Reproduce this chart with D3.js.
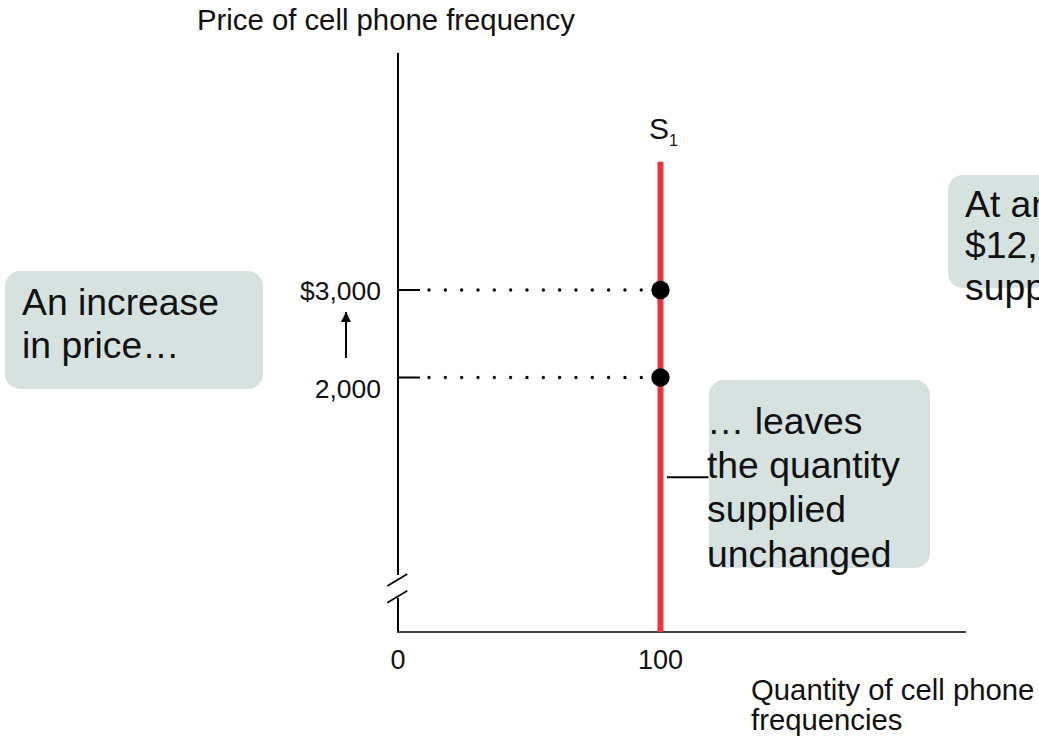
<!DOCTYPE html>
<html>
<head>
<meta charset="utf-8">
<script src="https://cdn.jsdelivr.net/npm/d3@7"></script>
<style>
  html, body { margin: 0; padding: 0; background: #fff; }
  svg { display: block; }
  text { font-family: "Liberation Sans", Arial, Helvetica, sans-serif; fill: #111; }
</style>
</head>
<body>
<svg id="chart" width="1039" height="743"></svg>
<script>
// Supply of cell phone frequencies: perfectly inelastic at a fixed quantity
const priceTicks = [2000, 3000];
const priceTickLabels = ["2,000", "$3,000"];
const quantityTicks = [0, 100];
const quantityTickLabels = ["0", "100"];
const supplyQuantity = [100, 100];
const supplyPrice = [null, 4466];          // null = runs down to the quantity axis
const pricePoints = [2000, 3000];          // marked points on S1
const leftNote = ["An increase", "in price…"];
const middleNote = ["… leaves", "the quantity", "supplied", "unchanged"];
const rightNote = ["At any price above", "$12, the quantity", "supplied is fixed"];

const svg = d3.select("#chart");

// Layout
const axisX0 = 398, axisY0 = 632, axisTop = 53, axisRight = 966;
const breakTop = 575, breakBottom = 598;

const x = d3.scaleLinear().domain([0, 100]).range([axisX0, 660.5]);
const y = d3.scaleLinear().domain([2000, 3000]).range([377.5, 290]);

// Axes
const axes = svg.append("g").attr("stroke", "#000").attr("fill", "none");
axes.append("line").attr("x1", axisX0).attr("x2", axisX0)
  .attr("y1", axisTop).attr("y2", breakTop).attr("stroke-width", 2);
axes.append("line").attr("x1", axisX0).attr("x2", axisX0)
  .attr("y1", breakBottom).attr("y2", axisY0).attr("stroke-width", 2);
axes.append("line").attr("x1", axisX0 - 1).attr("x2", axisRight)
  .attr("y1", axisY0).attr("y2", axisY0).attr("stroke-width", 1.6);
// axis break marks
[[387.3, 586, 407.3, 574], [387.3, 602.7, 407.3, 590.7]].forEach(d => {
  axes.append("line").attr("x1", d[0]).attr("y1", d[1]).attr("x2", d[2]).attr("y2", d[3])
    .attr("stroke-width", 1.6);
});

// Price ticks and dotted guides
const ticks = svg.append("g");
ticks.selectAll("line.tick").data(priceTicks).join("line")
  .attr("class", "tick")
  .attr("x1", axisX0).attr("x2", 420)
  .attr("y1", d => y(d)).attr("y2", d => y(d))
  .attr("stroke", "#000").attr("stroke-width", 2);
ticks.selectAll("line.guide").data(priceTicks).join("line")
  .attr("class", "guide")
  .attr("x1", 429).attr("x2", 645)
  .attr("y1", d => y(d)).attr("y2", d => y(d))
  .attr("stroke", "#000").attr("stroke-width", 3.4)
  .attr("stroke-linecap", "round")
  .attr("stroke-dasharray", "0 16.33");

// Price tick labels
svg.selectAll("text.plabel").data(priceTicks).join("text")
  .attr("class", "plabel")
  .attr("x", 381)
  .attr("y", (d, i) => y(d) + (i === 0 ? 20.5 : 9.7))
  .attr("text-anchor", "end")
  .attr("font-size", 26.5)
  .text((d, i) => priceTickLabels[i]);

// Arrow from 2,000 up to $3,000
svg.append("defs").append("marker")
  .attr("id", "head").attr("viewBox", "0 0 10 10")
  .attr("refX", 10).attr("refY", 5)
  .attr("markerWidth", 10).attr("markerHeight", 11)
  .attr("markerUnits", "userSpaceOnUse")
  .attr("orient", "auto")
  .append("path").attr("d", "M0,0 L10,5 L0,10 Z").attr("fill", "#000");
svg.append("line")
  .attr("x1", 346).attr("x2", 346).attr("y1", 358).attr("y2", 312)
  .attr("stroke", "#000").attr("stroke-width", 2)
  .attr("marker-end", "url(#head)");

// Quantity tick labels
svg.selectAll("text.qlabel").data(quantityTicks).join("text")
  .attr("class", "qlabel")
  .attr("x", d => x(d)).attr("y", 669)
  .attr("text-anchor", "middle")
  .attr("font-size", 27)
  .text((d, i) => quantityTickLabels[i]);

// Supply curve S1
svg.append("line")
  .attr("x1", x(supplyQuantity[0])).attr("x2", x(supplyQuantity[1]))
  .attr("y1", supplyPrice[0] === null ? axisY0 : y(supplyPrice[0]))
  .attr("y2", y(supplyPrice[1]))
  .attr("stroke", "#ee3340").attr("stroke-width", 6);

const s1 = svg.append("text").attr("x", 649).attr("y", 139).attr("font-size", 30);
s1.append("tspan").text("S");
s1.append("tspan").attr("font-size", 16).attr("dx", 0).attr("dy", 7).text("1");

// Points on S1
svg.selectAll("circle.pt").data(pricePoints).join("circle")
  .attr("class", "pt")
  .attr("cx", x(100)).attr("cy", d => y(d)).attr("r", 9.2)
  .attr("fill", "#000");

// Callout boxes
function callout(bx, by, bw, bh, lines, tx, ty0, lh) {
  svg.append("rect").attr("x", bx).attr("y", by).attr("width", bw).attr("height", bh)
    .attr("rx", 15).attr("ry", 15).attr("fill", "#d6e2e0");
  const t = svg.append("text").attr("font-size", 37.3);
  lines.forEach((s, i) => t.append("tspan").attr("x", tx).attr("y", ty0 + i * lh).text(s));
}
callout(5, 271, 258, 118, leftNote, 22, 315, 43);
callout(709, 380, 221, 188, middleNote, 707, 434, 44.2);
callout(948, 175, 140, 113, rightNote, 965, 216.5, 41.5);

// Leader from S1 to the middle note
svg.append("line").attr("x1", 667).attr("x2", 708.5).attr("y1", 477.3).attr("y2", 477.3)
  .attr("stroke", "#000").attr("stroke-width", 2);

// Axis titles
svg.append("text").attr("x", 197).attr("y", 30).attr("font-size", 29.3)
  .text("Price of cell phone frequency");
const qt = svg.append("text").attr("font-size", 29.3);
qt.append("tspan").attr("x", 751).attr("y", 700).text("Quantity of cell phone");
qt.append("tspan").attr("x", 751).attr("y", 730).text("frequencies");
</script>
</body>
</html>
